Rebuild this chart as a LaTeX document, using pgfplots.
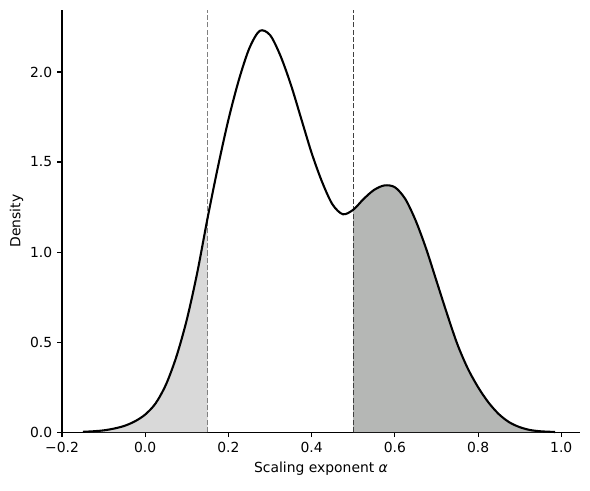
\documentclass[border=0pt]{standalone}
\usepackage{fontspec}
\setmainfont{DejaVu Sans}
\usepackage{pgfplots}
\pgfplotsset{compat=1.18}
\usepackage{pgfplotstable}

\definecolor{lowfill}{RGB}{217,217,217}
\definecolor{highfill}{RGB}{181,183,181}

% kernel density estimate of the scaling exponent
\pgfplotstableread{
x       y
-0.150  0.002
-0.125  0.005
-0.100  0.010
-0.075  0.020
-0.050  0.035
-0.025  0.060
0.000   0.098
0.025   0.160
0.050   0.265
0.075   0.420
0.100   0.625
0.125   0.885
0.150   1.190
0.175   1.475
0.200   1.735
0.225   1.955
0.250   2.130
0.275   2.228
0.300   2.205
0.325   2.090
0.350   1.930
0.375   1.740
0.400   1.550
0.425   1.390
0.450   1.265
0.475   1.210
0.500   1.235
0.525   1.295
0.550   1.345
0.575   1.370
0.600   1.360
0.625   1.295
0.650   1.175
0.675   1.020
0.700   0.840
0.725   0.660
0.750   0.490
0.775   0.355
0.800   0.250
0.825   0.165
0.850   0.100
0.875   0.055
0.900   0.028
0.925   0.012
0.950   0.005
0.975   0.002
0.985   0.001
}\kde

\begin{document}
\begin{tikzpicture}[x=1pt,y=1pt]
\begin{axis}[
    name=main,
    scale only axis,
    width=373pt, height=304pt,
    xmin=-0.2, xmax=1.045,
    ymin=0, ymax=2.344,
    axis x line*=bottom,
    axis y line*=left,
    axis line style={line width=0.8pt},
    tick style={line width=0.8pt, black},
    major tick length=3.5pt,
    tick align=outside,
    xtick={-0.2,0,0.2,0.4,0.6,0.8,1.0},
    xticklabels={−0.2,0.0,0.2,0.4,0.6,0.8,1.0},
    ytick={0,0.5,1.0,1.5,2.0},
    yticklabels={0.0,0.5,1.0,1.5,2.0},
    ticklabel style={font=\fontsize{10}{12}\selectfont},
    xlabel={Scaling exponent {\itshape α}},
    ylabel={Density},
    label style={font=\fontsize{10}{12}\selectfont},
    ylabel style={yshift=-2pt},
    clip=false,
]
% shaded tails
\addplot[fill=lowfill, draw=none, smooth, restrict x to domain=-0.16:0.151]
    table[x=x,y=y]{\kde} \closedcycle;
\addplot[fill=highfill, draw=none, smooth, restrict x to domain=0.499:1.0]
    table[x=x,y=y]{\kde} \closedcycle;
% thresholds
\addplot[black!50, line width=1pt, dash pattern=on 3.7pt off 1.6pt]
    coordinates {(0.15,0) (0.15,2.344)};
\addplot[black!75, line width=1pt, dash pattern=on 3.7pt off 1.6pt]
    coordinates {(0.5,0) (0.5,2.344)};
% density curve
\addplot[black, line width=1.5pt, smooth] table[x=x,y=y]{\kde};
\end{axis}
\pgfresetboundingbox
\path ([xshift=-44.64pt,yshift=-41.76pt]main.south west) rectangle ([xshift=7.2pt,yshift=7.2pt]main.north east);
\end{tikzpicture}
\end{document}
